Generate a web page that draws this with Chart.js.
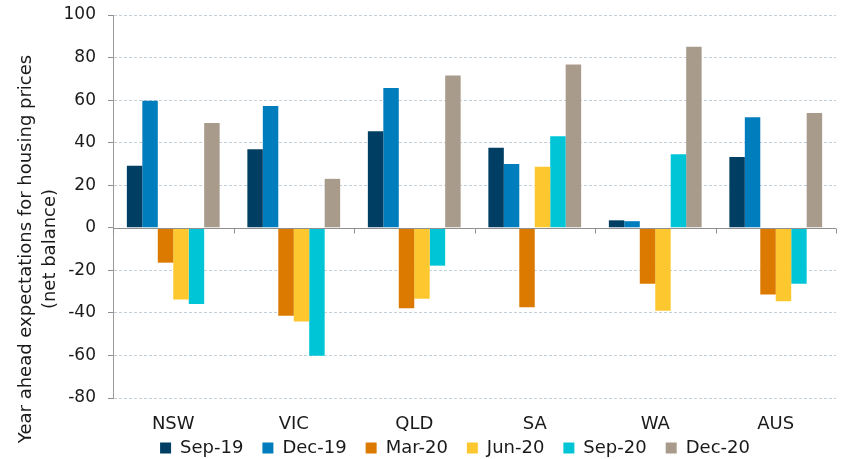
<!DOCTYPE html>
<html>
<head>
<meta charset="utf-8">
<script src="https://cdn.jsdelivr.net/npm/chart.js@4"></script>
<style>
  html, body { margin: 0; padding: 0; background: #fff; }
  #wrap { width: 844px; height: 459px; }
</style>
</head>
<body>
<div id="wrap"><canvas id="chart"></canvas></div>
<script>
const states = ['NSW', 'VIC', 'QLD', 'SA', 'WA', 'AUS'];
const sep19 = [29.2, 36.9, 45.4, 37.6, 3.5, 33.3];
const dec19 = [59.7, 57.2, 65.7, 30.0, 3.1, 52.0];
const mar20 = [-16.4, -41.4, -37.8, -37.3, -26.3, -31.4];
const jun20 = [-33.7, -44.0, -33.4, 28.7, -39.0, -34.5];
const sep20 = [-35.8, -60.1, -17.8, 43.0, 34.5, -26.3];
const dec20 = [49.3, 23.0, 71.6, 76.7, 85.1, 53.9];

const seriesNames = ['Sep-19', 'Dec-19', 'Mar-20', 'Jun-20', 'Sep-20', 'Dec-20'];
const seriesData = [sep19, dec19, mar20, jun20, sep20, dec20];
const seriesColors = ['#003f63', '#007dbc', '#dc7a00', '#fdc82f', '#00c5d7', '#a89b8c'];
const yTitle = ['Year ahead expectations for housing prices', '(net balance)'];

const FONT = 'DejaVu Sans, Verdana, sans-serif';
const TEXT = '#1a1a1a';

// zero line, small tick marks between categories, and the category labels
const zeroTicks = {
  id: 'zeroTicks',
  afterDatasetsDraw(chart) {
    const x = chart.scales.x, y = chart.scales.y;
    const ctx = chart.ctx;
    const y0 = Math.round(y.getPixelForValue(0)) + 0.5;
    ctx.save();
    ctx.strokeStyle = '#8f8f8f';
    ctx.lineWidth = 1;
    ctx.beginPath();
    ctx.moveTo(x.left, y0);
    ctx.lineTo(x.right, y0);
    for (let i = 0; i <= states.length; i++) {
      const px = Math.round(x.getPixelForValue(i - 0.5)) + 0.5;
      ctx.moveTo(px, y0);
      ctx.lineTo(px, y0 + 5);
    }
    ctx.stroke();

    ctx.fillStyle = TEXT;
    ctx.font = '18px ' + FONT;
    ctx.textAlign = 'center';
    ctx.textBaseline = 'middle';
    states.forEach((s, i) => {
      ctx.fillText(s, x.getPixelForValue(i), y.bottom + 26);
    });
    ctx.restore();
  }
};

// two-line rotated y axis title
const yAxisTitle = {
  id: 'yAxisTitle',
  afterDraw(chart) {
    const ctx = chart.ctx;
    ctx.save();
    ctx.fillStyle = TEXT;
    ctx.font = '18px ' + FONT;
    ctx.textAlign = 'center';
    ctx.textBaseline = 'middle';
    const cy = 249;
    [26, 50].forEach((cx, i) => {
      ctx.save();
      ctx.translate(cx, cy);
      ctx.rotate(-Math.PI / 2);
      ctx.fillText(yTitle[i], 0, 0);
      ctx.restore();
    });
    ctx.restore();
  }
};

// legend in the source is centred a bit right of the canvas middle
const shiftLegend = {
  id: 'shiftLegend',
  afterLayout(chart) {
    chart.legend.left += 37;
    chart.legend.right += 37;
  }
};

new Chart(document.getElementById('chart'), {
  type: 'bar',
  data: {
    labels: states,
    datasets: seriesNames.map((name, i) => ({
      label: name,
      data: seriesData[i],
      backgroundColor: seriesColors[i],
      borderWidth: 0,
      categoryPercentage: 0.77,
      barPercentage: 1
    }))
  },
  options: {
    responsive: true,
    maintainAspectRatio: false,
    animation: false,
    layout: { padding: { top: 15, right: 8, left: 0, bottom: -8 } },
    plugins: {
      tooltip: { enabled: false },
      legend: {
        position: 'bottom',
        labels: {
          color: TEXT,
          font: { family: FONT, size: 18 },
          boxWidth: 11,
          boxHeight: 11,
          padding: 19
        }
      }
    },
    scales: {
      x: {
        grid: { display: false },
        border: { display: false },
        ticks: { display: false },
        afterFit: s => { s.height = 22; }
      },
      y: {
        min: -80,
        max: 100,
        ticks: {
          stepSize: 20,
          color: TEXT,
          font: { family: FONT, size: 17 },
          padding: 12
        },
        grid: {
          color: c => c.tick && c.tick.value === 0 ? 'rgba(0,0,0,0)' : '#c5d0d8',
          tickColor: '#8f8f8f',
          tickLength: 5
        },
        border: {
          color: '#9a9a9a',
          dash: c => (c.tick && c.tick.value === 0) ? [] : [3, 2]
        },
        afterFit: s => {
          s.width = 113;
          s.paddingTop = 0;
          s.paddingBottom = 0;
        }
      }
    }
  },
  plugins: [zeroTicks, yAxisTitle, shiftLegend]
});
</script>
</body>
</html>
